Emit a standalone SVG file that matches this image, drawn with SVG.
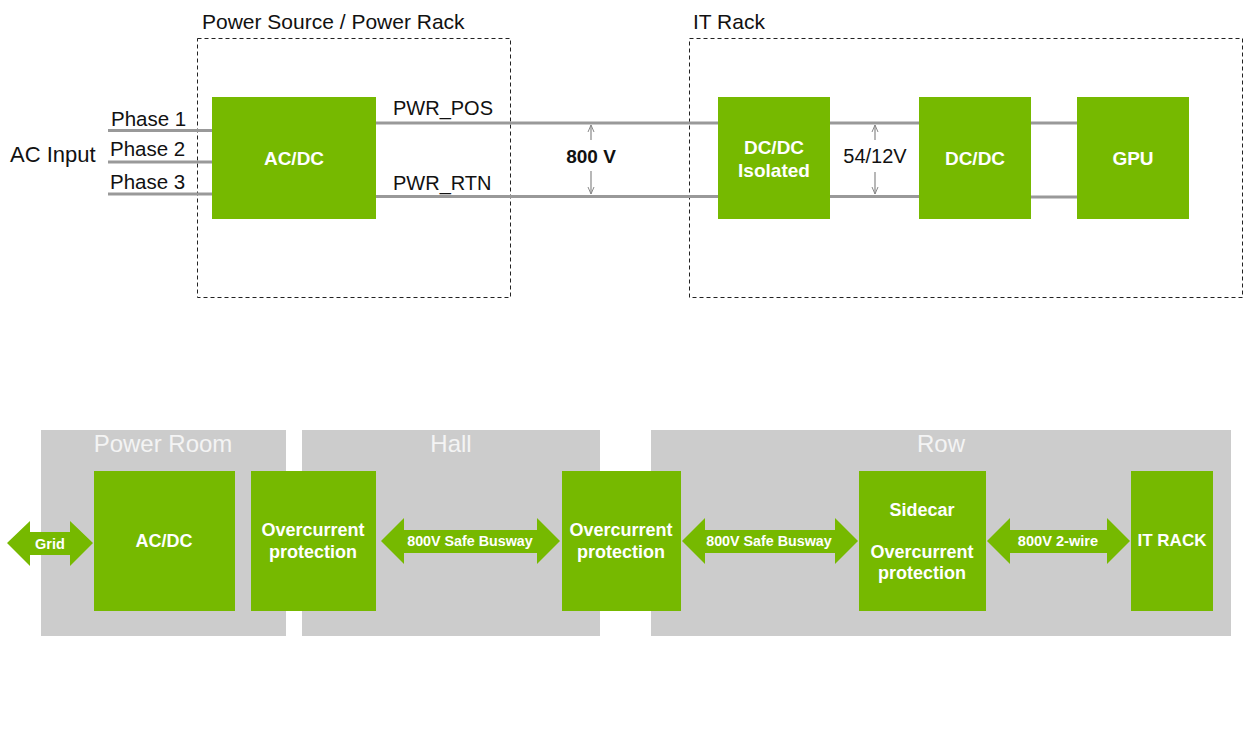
<svg xmlns="http://www.w3.org/2000/svg" width="1244" height="735" viewBox="0 0 1244 735">
<defs>
<style>
.t{font-family:"Liberation Sans",Arial,sans-serif;fill:#111}
.lbl{font-family:"Liberation Sans",Arial,sans-serif;font-weight:bold;fill:#fff;text-anchor:middle}
.box{fill:#76b900}
.dash{fill:none;stroke:#222;stroke-width:1;stroke-dasharray:4 3}
.wire{stroke:#999;stroke-width:3;fill:none}
.dim{stroke:#888;stroke-width:1.2;fill:none;marker-end:url(#ah)}
.panel{fill:#cccccc}
.ptitle{font-family:"Liberation Sans",Arial,sans-serif;font-size:24px;fill:#f4f4f4;text-anchor:middle}
.arr{fill:#76b900}
</style>
<marker id="ah" markerWidth="8" markerHeight="8" refX="7" refY="4" orient="auto" markerUnits="userSpaceOnUse">
<path d="M0,1 L7,4 L0,7" fill="none" stroke="#888" stroke-width="1"/>
</marker>
</defs>
<rect width="1244" height="735" fill="#fff"/>

<!-- Top: containers -->
<g id="power-rack">
<rect class="dash" x="197.5" y="38.5" width="313" height="259"/>
<text class="t" x="202" y="29" font-size="21">Power Source / Power Rack</text>
</g>
<g id="it-rack">
<rect class="dash" x="689.5" y="38.5" width="553" height="259"/>
<text class="t" x="693" y="29" font-size="21">IT Rack</text>
</g>

<!-- Top connectors -->
<g id="connectors-top">
<line class="wire" x1="108" y1="130.5" x2="212" y2="130.5"/>
<line class="wire" x1="108" y1="162" x2="212" y2="162"/>
<line class="wire" x1="108" y1="194" x2="212" y2="194"/>
<line class="wire" x1="376" y1="123" x2="718" y2="123"/>
<line class="wire" x1="376" y1="196.5" x2="718" y2="196.5"/>
<line class="wire" x1="830" y1="123" x2="919" y2="123"/>
<line class="wire" x1="830" y1="196.5" x2="919" y2="196.5"/>
<line class="wire" x1="1031" y1="123" x2="1077" y2="123"/>
<line class="wire" x1="1031" y1="197" x2="1077" y2="197"/>
<line class="dim" x1="591" y1="140" x2="591" y2="125"/>
<line class="dim" x1="591" y1="171" x2="591" y2="194"/>
<line class="dim" x1="875" y1="140" x2="875" y2="125"/>
<line class="dim" x1="875" y1="172" x2="875" y2="194"/>
</g>

<g id="top-labels">
<text class="t" x="10" y="162" font-size="22">AC Input</text>
<text class="t" x="111" y="126" font-size="20.5">Phase 1</text>
<text class="t" x="110" y="156" font-size="20.5">Phase 2</text>
<text class="t" x="110" y="189" font-size="20.5">Phase 3</text>
<text class="t" x="393" y="115" font-size="20">PWR_POS</text>
<text class="t" x="393" y="190" font-size="20">PWR_RTN</text>
<text class="t" x="591" y="163" font-size="19" font-weight="bold" text-anchor="middle">800 V</text>
<text class="t" x="875" y="163" font-size="20" text-anchor="middle">54/12V</text>
</g>

<g id="acdc-top">
<rect class="box" x="212" y="97" width="164" height="122"/>
<text class="lbl" x="294" y="165" font-size="19">AC/DC</text>
</g>
<g id="dcdc-iso">
<rect class="box" x="718" y="97" width="112" height="122"/>
<text class="lbl" x="774" y="154" font-size="19">DC/DC</text>
<text class="lbl" x="774" y="177" font-size="19">Isolated</text>
</g>
<g id="dcdc">
<rect class="box" x="919" y="97" width="112" height="122"/>
<text class="lbl" x="975" y="165" font-size="19">DC/DC</text>
</g>
<g id="gpu">
<rect class="box" x="1077" y="97" width="112" height="122"/>
<text class="lbl" x="1133" y="165" font-size="19">GPU</text>
</g>

<!-- Bottom: zones -->
<g id="zone-power-room">
<rect class="panel" x="41" y="430" width="245" height="206"/>
<text class="ptitle" x="163" y="452">Power Room</text>
</g>
<g id="zone-hall">
<rect class="panel" x="302" y="430" width="298" height="206"/>
<text class="ptitle" x="451" y="452">Hall</text>
</g>
<g id="zone-row">
<rect class="panel" x="651" y="430" width="580" height="206"/>
<text class="ptitle" x="941" y="452">Row</text>
</g>

<!-- Bottom connectors (double arrows) -->
<g id="connectors-bottom">
<g id="arrow-grid">
<polygon class="arr" points="7,543 30,521 30,532 70,532 70,521 93,543 70,566 70,555 30,555 30,566"/>
<text class="lbl" x="50" y="549" font-size="14.5">Grid</text>
</g>
<g id="arrow-busway1">
<polygon class="arr" points="381,541 404,518 404,530 537,530 537,518 560,541 537,564 537,553 404,553 404,564"/>
<text class="lbl" x="470" y="546" font-size="14.3">800V Safe Busway</text>
</g>
<g id="arrow-busway2">
<polygon class="arr" points="682,541 705,518 705,530 835,530 835,518 858,541 835,564 835,553 705,553 705,564"/>
<text class="lbl" x="769" y="546" font-size="14.3">800V Safe Busway</text>
</g>
<g id="arrow-2wire">
<polygon class="arr" points="987,541 1010,518 1010,530 1107,530 1107,518 1130,541 1107,564 1107,553 1010,553 1010,564"/>
<text class="lbl" x="1058" y="546" font-size="14.6">800V 2-wire</text>
</g>
</g>

<g id="acdc-bottom">
<rect class="box" x="94" y="471" width="141" height="140"/>
<text class="lbl" x="164" y="547" font-size="18">AC/DC</text>
</g>
<g id="ocp-1">
<rect class="box" x="251" y="471" width="125" height="140"/>
<text class="lbl" x="313" y="536" font-size="18">Overcurrent</text>
<text class="lbl" x="313" y="558" font-size="18">protection</text>
</g>
<g id="ocp-2">
<rect class="box" x="562" y="471" width="119" height="140"/>
<text class="lbl" x="621" y="536" font-size="18">Overcurrent</text>
<text class="lbl" x="621" y="558" font-size="18">protection</text>
</g>
<g id="sidecar">
<rect class="box" x="859" y="471" width="127" height="140"/>
<text class="lbl" x="922" y="516" font-size="18">Sidecar</text>
<text class="lbl" x="922" y="558" font-size="18">Overcurrent</text>
<text class="lbl" x="922" y="579" font-size="18">protection</text>
</g>
<g id="it-rack-bottom">
<rect class="box" x="1131" y="471" width="82" height="140"/>
<text class="lbl" x="1172" y="546" font-size="17">IT RACK</text>
</g>
</svg>
